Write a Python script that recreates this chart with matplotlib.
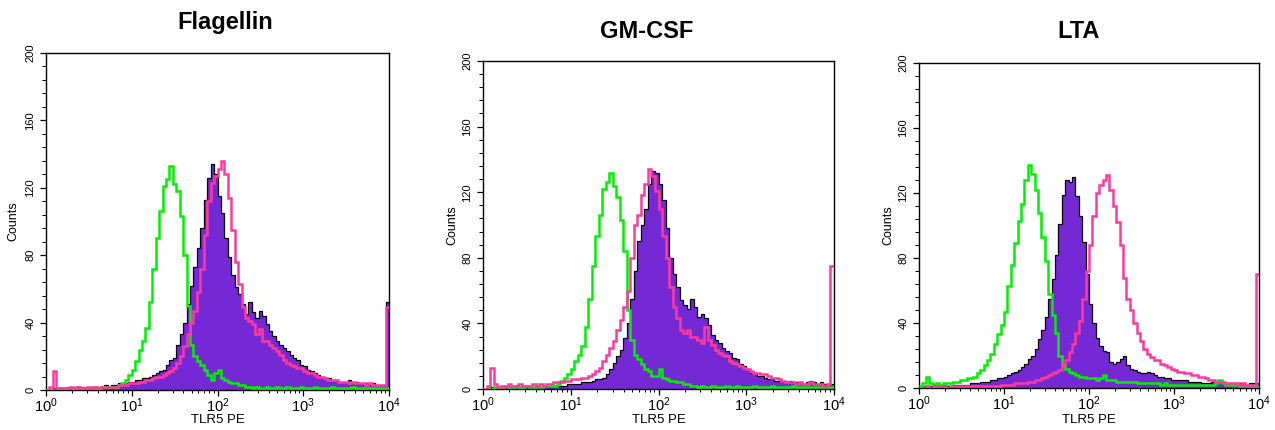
import numpy as np
import matplotlib
matplotlib.use("Agg")
import matplotlib.pyplot as plt
from matplotlib.ticker import FixedLocator, LogLocator, LogFormatterSciNotation

plt.rcParams['font.family'] = ['Liberation Sans', 'DejaVu Sans']
plt.rcParams['mathtext.default'] = 'regular'

# ---------------- data ----------------
titles = ["Flagellin", "GM-CSF", "LTA"]
x_label = "TLR5 PE"
y_label = "Counts"
y_ticks = [0, 40, 80, 120, 160, 200]
log_range = (0, 4)   # decades 10^0 .. 10^4
n_channels = 100

flag_green = [
    0, 0, 0, 0, 1, 1, 1, 1, 1, 2,
    1, 1, 1, 1, 2, 1, 2, 2, 2, 2,
    2, 3, 4, 6, 9, 12, 17, 24, 29, 37,
    52, 72, 90, 106, 121, 125, 133, 122, 118, 103,
    80, 50, 27, 20, 17, 15, 12, 9, 6, 10,
    12, 7, 6, 5, 4, 4, 3, 3, 2, 2,
    1, 2, 1, 1, 2, 1, 1, 2, 1, 1,
    2, 1, 1, 1, 2, 1, 1, 1, 2, 1,
    1, 1, 1, 2, 1, 1, 1, 1, 1, 2,
    1, 1, 1, 1, 1, 1, 1, 1, 1, 1]
flag_black = [
    0, 0, 1, 1, 1, 1, 2, 1, 2, 1,
    2, 2, 1, 2, 2, 2, 2, 3, 2, 3,
    3, 4, 4, 4, 5, 5, 6, 6, 7, 7,
    8, 9, 10, 11, 12, 15, 18, 19, 27, 33,
    40, 51, 62, 73, 84, 96, 113, 126, 134, 128,
    115, 105, 90, 79, 68, 61, 57, 51, 45, 52,
    46, 43, 47, 44, 39, 35, 32, 29, 27, 25,
    23, 21, 19, 18, 15, 14, 12, 11, 10, 9,
    8, 7, 7, 6, 6, 5, 5, 5, 6, 5,
    5, 4, 4, 4, 4, 4, 3, 3, 3, 52]
flag_pink = [
    0, 2, 11, 1, 1, 1, 1, 2, 1, 2,
    1, 1, 2, 1, 2, 1, 2, 2, 2, 2,
    2, 3, 3, 3, 4, 4, 4, 5, 5, 6,
    6, 7, 8, 8, 9, 10, 11, 13, 16, 20,
    26, 33, 40, 47, 58, 72, 92, 112, 123, 127,
    131, 136, 128, 114, 95, 76, 63, 49, 43, 41,
    39, 33, 36, 29, 29, 27, 25, 23, 21, 18,
    16, 15, 14, 13, 13, 11, 10, 10, 9, 8,
    8, 7, 6, 6, 6, 5, 5, 5, 4, 5,
    4, 4, 4, 3, 4, 3, 3, 3, 3, 49]

gm_green = [
    0, 0, 0, 1, 1, 1, 2, 1, 1, 2,
    1, 1, 2, 1, 1, 2, 1, 2, 2, 2,
    2, 3, 5, 7, 9, 12, 17, 21, 26, 38,
    55, 75, 93, 106, 122, 126, 132, 124, 117, 103,
    84, 48, 30, 21, 18, 15, 12, 11, 8, 8,
    12, 7, 6, 5, 5, 4, 4, 3, 3, 2,
    2, 1, 2, 1, 1, 2, 1, 1, 1, 2,
    1, 1, 2, 1, 1, 1, 1, 2, 1, 1,
    1, 1, 2, 1, 1, 1, 1, 1, 2, 1,
    1, 1, 1, 1, 1, 1, 1, 1, 1, 1]
gm_black = [
    0, 0, 1, 1, 1, 1, 1, 2, 1, 1,
    1, 2, 1, 1, 1, 2, 1, 2, 1, 2,
    2, 2, 2, 2, 3, 3, 3, 3, 4, 4,
    4, 5, 6, 6, 7, 9, 12, 16, 20, 24,
    31, 40, 55, 72, 90, 100, 110, 125, 133, 132,
    125, 115, 98, 80, 70, 62, 54, 51, 49, 55,
    50, 44, 46, 43, 39, 33, 30, 28, 25, 23,
    22, 19, 18, 15, 14, 12, 10, 10, 8, 8,
    7, 6, 6, 5, 5, 5, 4, 5, 4, 4,
    4, 3, 4, 5, 4, 3, 4, 3, 3, 3]
gm_pink = [
    0, 2, 13, 3, 1, 2, 2, 3, 2, 2,
    3, 2, 2, 2, 3, 2, 3, 2, 3, 3,
    4, 4, 4, 5, 5, 6, 6, 6, 7, 7,
    8, 9, 11, 13, 17, 21, 25, 29, 36, 42,
    50, 60, 80, 100, 106, 118, 125, 134, 130, 121,
    110, 93, 80, 62, 50, 43, 36, 34, 36, 32,
    32, 30, 28, 38, 30, 27, 24, 22, 21, 20,
    17, 16, 15, 14, 13, 12, 11, 10, 10, 9,
    9, 8, 7, 7, 6, 5, 4, 4, 4, 3,
    4, 3, 3, 4, 3, 3, 3, 2, 3, 75]

lta_green = [
    1, 3, 7, 3, 2, 3, 2, 3, 3, 3,
    4, 4, 5, 5, 6, 6, 7, 9, 11, 14,
    17, 21, 27, 33, 39, 47, 63, 76, 89, 103,
    113, 128, 137, 132, 122, 108, 93, 78, 58, 45,
    34, 20, 14, 12, 10, 9, 8, 7, 7, 6,
    6, 6, 5, 6, 8, 5, 5, 5, 4, 4,
    4, 4, 4, 4, 3, 3, 3, 3, 3, 3,
    3, 2, 3, 2, 2, 2, 2, 2, 2, 2,
    2, 2, 2, 2, 2, 2, 2, 3, 5, 3,
    2, 2, 2, 2, 1, 1, 1, 1, 1, 1]
lta_black = [
    0, 1, 1, 1, 1, 1, 1, 2, 1, 1,
    2, 2, 2, 2, 2, 3, 3, 3, 4, 4,
    4, 5, 5, 6, 6, 7, 8, 9, 10, 11,
    13, 15, 18, 20, 24, 30, 36, 44, 55, 67,
    82, 101, 119, 128, 127, 130, 118, 106, 90, 70,
    52, 40, 31, 26, 23, 22, 16, 15, 16, 18,
    20, 14, 12, 11, 10, 9, 9, 10, 9, 8,
    7, 7, 6, 6, 5, 5, 5, 5, 5, 4,
    4, 4, 4, 3, 3, 3, 4, 3, 3, 3,
    3, 3, 3, 2, 3, 3, 2, 3, 3, 3]
lta_pink = [
    0, 0, 1, 0, 1, 0, 1, 1, 0, 1,
    1, 1, 1, 1, 1, 1, 1, 1, 1, 1,
    1, 1, 1, 1, 2, 2, 2, 2, 3, 3,
    3, 3, 4, 4, 5, 5, 6, 7, 8, 9,
    10, 11, 14, 17, 22, 27, 34, 41, 55, 72,
    88, 106, 120, 125, 128, 131, 122, 112, 102, 88,
    68, 55, 48, 40, 34, 29, 24, 21, 19, 17,
    17, 15, 14, 13, 12, 11, 10, 10, 9, 9,
    8, 8, 7, 7, 6, 5, 5, 4, 4, 4,
    3, 3, 3, 3, 2, 3, 2, 2, 2, 70]

panels = [
    (flag_black, flag_green, flag_pink),
    (gm_black, gm_green, gm_pink),
    (lta_black, lta_green, lta_pink),
]

# ---------------- style / layout ----------------
W, H = 1275, 430
PURPLE = '#7429D4'
GREEN = '#00EE00'
PINK = '#FF3A9E'

# axes boxes in pixels: left, top, right, bottom
boxes = [(46, 53, 389, 390), (483, 61, 834, 389), (919, 63, 1259, 388)]
title_pos = [(225, 29), (647, 38), (1079, 38)]
ylabel_x = [13, 452, 888]

fig = plt.figure(figsize=(W / 100, H / 100), dpi=100)
edges = np.logspace(log_range[0], log_range[1], n_channels + 1)

for k, (box, (blk, grn, pnk)) in enumerate(zip(boxes, panels)):
    l, t, r, b = box
    ax = fig.add_axes([l / W, 1 - b / H, (r - l) / W, (b - t) / H])
    ax.stairs(blk, edges, fill=True, color=PURPLE, baseline=0, zorder=1)
    ax.stairs(blk, edges, color='black', lw=0.9, baseline=None, zorder=2)
    ax.stairs(grn, edges, color=GREEN, lw=1.8, baseline=None, zorder=3)
    ax.stairs(pnk, edges, color=PINK, lw=1.8, baseline=None, zorder=4)

    ax.set_xscale('log')
    ax.set_xlim(10 ** log_range[0], 10 ** log_range[1])
    ax.set_ylim(0, 200)
    ax.xaxis.set_major_locator(LogLocator(base=10, numticks=10))
    ax.xaxis.set_minor_locator(LogLocator(base=10, subs=np.arange(2, 10), numticks=50))
    ax.xaxis.set_major_formatter(LogFormatterSciNotation())
    ax.yaxis.set_major_locator(FixedLocator(y_ticks))
    ax.yaxis.set_minor_locator(FixedLocator(np.arange(0, 201, 8)))
    ax.tick_params(axis='x', which='major', direction='out', length=4.5, width=0.9,
                   labelsize=10.5, pad=0.3)
    ax.tick_params(axis='x', which='minor', direction='out', length=2.5, width=0.7)
    ax.tick_params(axis='y', which='major', direction='out', length=4.5, width=0.9,
                   labelsize=8, labelrotation=90, pad=3)
    ax.tick_params(axis='y', which='minor', direction='out', length=3, width=0.7)
    for lab in ax.get_yticklabels():
        lab.set_va('center')
    for s in ax.spines.values():
        s.set_linewidth(1.0)
        s.set_color('black')

    ax.set_xlabel(x_label, fontsize=9.5)
    ax.xaxis.set_label_coords(0.5, -(414 - b) / (b - t))
    ax.set_ylabel(y_label, fontsize=9)
    ax.yaxis.set_label_coords((ylabel_x[k] - l) / (r - l), 0.5)
    ax.yaxis.label.set_va('center')

    tx, ty = title_pos[k]
    fig.text(tx / W, 1 - ty / H, titles[k], ha='center', va='baseline',
             fontsize=17, fontweight='bold')

fig.savefig('out.png', dpi=100)
